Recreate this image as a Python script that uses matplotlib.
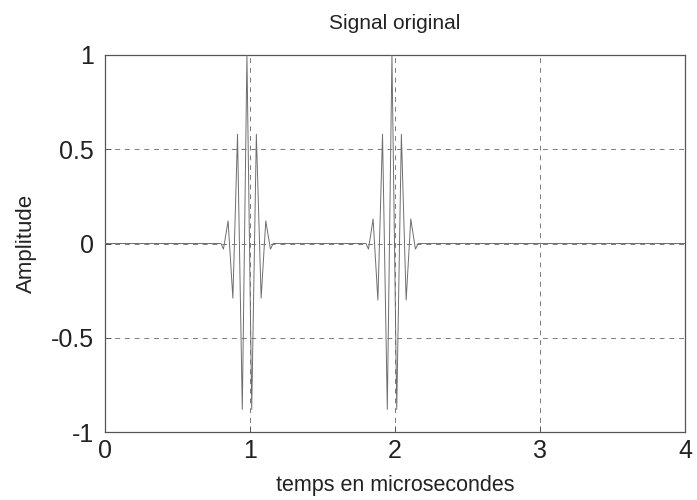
import matplotlib
matplotlib.use("Agg")
import matplotlib.pyplot as plt

plt.rcParams["font.family"] = ["Liberation Sans", "DejaVu Sans"]

# Echantillons du signal (temps en microsecondes, amplitude)
pulse1_t = [0.800, 0.817, 0.849, 0.882, 0.914, 0.947, 0.979, 1.012, 1.044, 1.077, 1.109, 1.141, 1.160]
pulse1_a = [0.0, -0.03, 0.12, -0.29, 0.58, -0.88, 1.00, -0.88, 0.58, -0.29, 0.12, -0.03, 0.0]

pulse2_t = [1.800, 1.817, 1.849, 1.882, 1.914, 1.947, 1.979, 2.012, 2.044, 2.077, 2.109, 2.141, 2.160]
pulse2_a = [0.0, -0.03, 0.13, -0.30, 0.58, -0.88, 1.00, -0.88, 0.58, -0.30, 0.13, -0.03, 0.0]

t = [0.0] + pulse1_t + pulse2_t + [4.0]
signal = [0.0] + pulse1_a + pulse2_a + [0.0]

x_ticks = [0, 1, 2, 3, 4]
y_ticks = [-1, -0.5, 0, 0.5, 1]
y_tick_labels = ["-1", "-0.5", "0", "0.5", "1"]

fig = plt.figure(figsize=(6.97, 5.0), dpi=100)
ax = fig.add_axes([0.1506, 0.136, 0.8322, 0.754])

ax.plot(t, signal, color="#6e6e6e", linewidth=0.7, zorder=3)

ax.set_xlim(0, 4)
ax.set_ylim(-1, 1)
ax.set_xticks(x_ticks)
ax.set_yticks(y_ticks)
ax.set_yticklabels(y_tick_labels)

ax.grid(True, linestyle=(0, (5, 5)), color="#7a7a7a", linewidth=0.7)
ax.set_axisbelow(True)

for side in ax.spines.values():
    side.set_color("#555555")
    side.set_linewidth(0.9)

ax.tick_params(direction="in", length=4, width=0.7, color="#555555",
               labelsize=18, labelcolor="#222222")
ax.tick_params(axis="x", pad=5)
ax.tick_params(axis="y", pad=8)

ax.set_title("Signal original", fontsize=15, color="#222222", pad=19)
ax.set_xlabel("temps en microsecondes", fontsize=15.5, color="#222222", labelpad=9)
ax.set_ylabel("Amplitude", fontsize=16, color="#222222", labelpad=10)

fig.savefig("out.png", dpi=100, facecolor="white")
